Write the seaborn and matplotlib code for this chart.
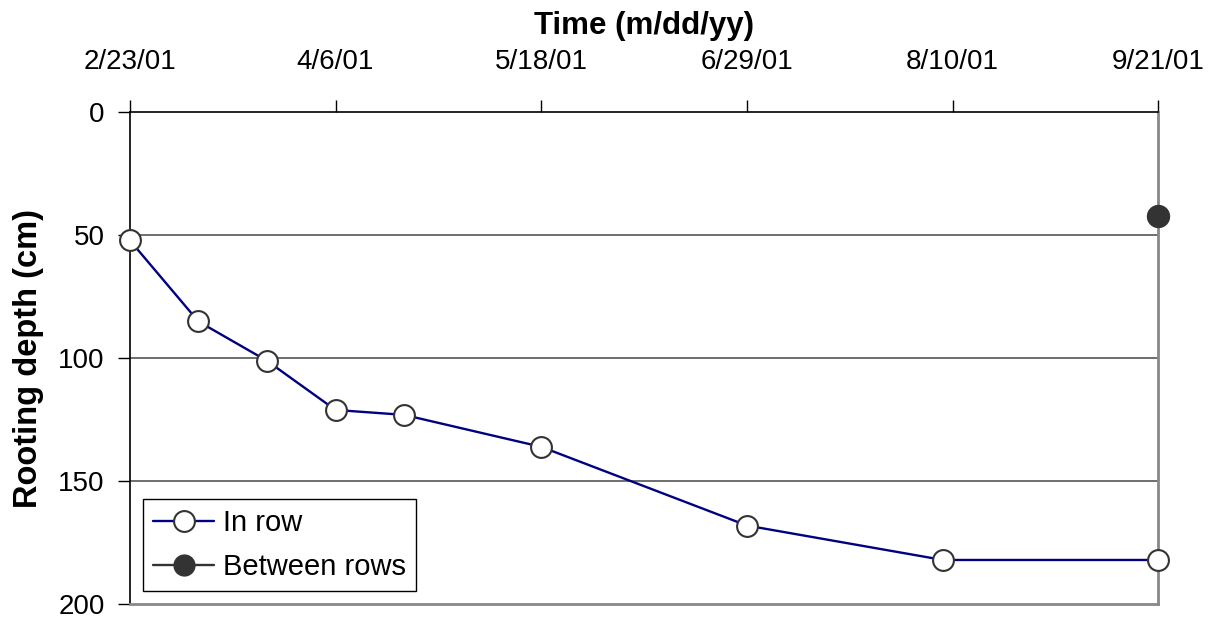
import matplotlib
matplotlib.use("Agg")
import matplotlib.pyplot as plt
import matplotlib.dates as mdates
from matplotlib.ticker import FuncFormatter
from matplotlib.lines import Line2D
import seaborn as sns
import pandas as pd
import numpy as np

# ---- data ----
in_row_dates = ["2001-02-23", "2001-03-09", "2001-03-23", "2001-04-06", "2001-04-20",
                "2001-05-18", "2001-06-29", "2001-08-08", "2001-09-21"]
in_row_depth = [52, 85, 101, 121, 123, 136, 168, 182, 182]
between_dates = ["2001-09-21"]
between_depth = [42]
tick_dates = ["2001-02-23", "2001-04-06", "2001-05-18", "2001-06-29", "2001-08-10", "2001-09-21"]
y_ticks = [0, 50, 100, 150, 200]

df_in = pd.DataFrame({"date": pd.to_datetime(in_row_dates), "depth": in_row_depth})
df_bt = pd.DataFrame({"date": pd.to_datetime(between_dates), "depth": between_depth})

sns.set_style("white")
plt.rcParams['font.family'] = ['Liberation Sans', 'DejaVu Sans']
plt.rcParams['text.color'] = 'black'
plt.rcParams['axes.labelcolor'] = 'black'
plt.rcParams['xtick.color'] = 'black'
plt.rcParams['ytick.color'] = 'black'

fig = plt.figure(figsize=(12.13, 6.21), dpi=100)
ax = fig.add_axes([0.107, 0.027, 0.848, 0.792])

navy = "#000080"
edge = "#333333"

sns.lineplot(data=df_in, x="date", y="depth", ax=ax, color=navy, linewidth=1.7,
             marker="o", markersize=15, markerfacecolor="white", markeredgecolor=edge,
             markeredgewidth=1.5, clip_on=False, zorder=5)
sns.scatterplot(data=df_bt, x="date", y="depth", ax=ax, color=edge, s=250,
                edgecolor=edge, linewidth=1, clip_on=False, zorder=6)

ax.set_xlim(pd.Timestamp(tick_dates[0]), pd.Timestamp(tick_dates[-1]))
ax.set_ylim(200, 0)
ax.set_yticks(y_ticks)
ax.set_xticks(pd.to_datetime(tick_dates))

def fmt(x, pos):
    d = mdates.num2date(x)
    return f"{d.month}/{d.day}/{d:%y}"
ax.xaxis.set_major_formatter(FuncFormatter(fmt))

ax.xaxis.tick_top()
ax.xaxis.set_label_position("top")
ax.tick_params(axis="x", which="major", direction="out", length=9, width=1,
               color="black", labelcolor="black", labelsize=20, pad=18, top=True, bottom=False)
ax.tick_params(axis="y", which="major", direction="out", length=9, width=1,
               color="black", labelcolor="black", labelsize=20, pad=9, left=True)

ax.set_xlabel("Time (m/dd/yy)", fontsize=22.5, fontweight="bold", labelpad=11, color="black")
ax.set_ylabel("Rooting depth (cm)", fontsize=23.5, fontweight="bold", labelpad=10, color="black")

for y in [50, 100, 150]:
    ax.axhline(y, color="#555555", linewidth=1.2, zorder=1)

ax.spines["top"].set_color("black")
ax.spines["top"].set_linewidth(1.2)
ax.spines["left"].set_color("black")
ax.spines["left"].set_linewidth(1.2)
ax.spines["right"].set_color("#888888")
ax.spines["right"].set_linewidth(2)
ax.spines["bottom"].set_color("#888888")
ax.spines["bottom"].set_linewidth(2)

handles = [
    Line2D([0], [0], color=navy, lw=1.7, marker="o", markersize=15,
           markerfacecolor="white", markeredgecolor=edge, markeredgewidth=1.5),
    Line2D([0], [0], color=edge, lw=1.7, marker="o", markersize=15,
           markerfacecolor=edge, markeredgecolor=edge),
]
leg = ax.legend(handles, ["In row", "Between rows"], loc="lower left",
                bbox_to_anchor=(0.0126, 0.026), fontsize=21, frameon=True,
                fancybox=False, edgecolor="black", framealpha=1,
                handlelength=2.1, handletextpad=0.3, borderpad=0.35,
                labelspacing=0.55, borderaxespad=0)
leg.get_frame().set_linewidth(1)
for t in leg.get_texts():
    t.set_color("black")

fig.savefig("out.png", dpi=100)
